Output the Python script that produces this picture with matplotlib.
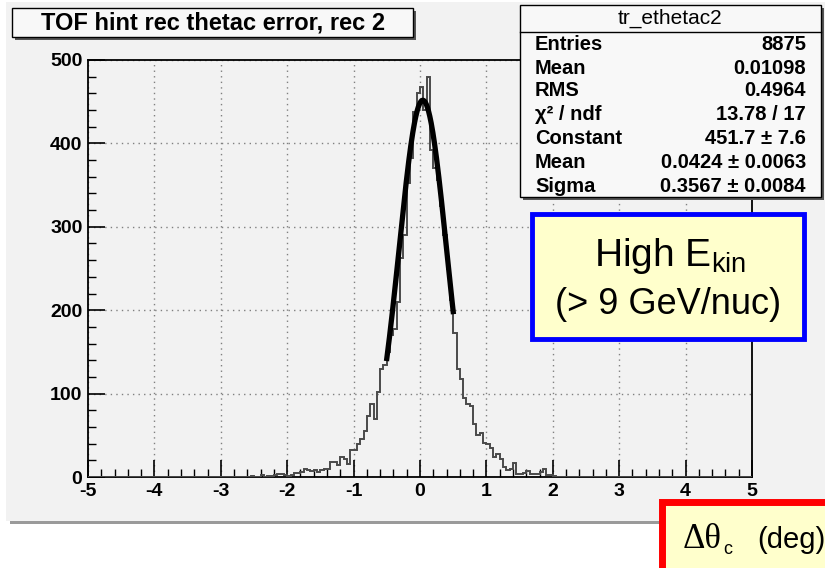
import numpy as np
import matplotlib.pyplot as plt
from matplotlib.patches import Rectangle

# histogram: 200 bins of 0.05 from -5 to 5, non-empty part starts at -2.55
x_lo, x_hi, bin_w = -5.0, 5.0, 0.05
first_bin = -2.55
counts = [
    # -2.55 .. -1.45
    1, 0, 0, 2, 0, 1, 1, 2, 3, 4, 2, 1, 2, 5, 5, 6, 9, 8, 7, 8, 6, 8, 9,
    # -1.40 .. -0.55
    9, 18, 18, 14, 24, 21, 15, 32, 32, 39, 46, 55, 73, 88, 69, 102, 130, 134,
    # -0.50 .. 0.45
    150, 170, 178, 210, 262, 290, 352, 382, 438, 460, 468, 440, 480, 392, 370, 356, 325, 290, 250, 212,
    # 0.50 .. 2.00
    173, 130, 118, 95, 88, 85, 63, 50, 53, 41, 39, 35, 24, 27, 21, 12, 8, 10, 17, 4,
    3, 5, 7, 3, 3, 3, 6, 9, 2, 2, 1,
]

# gaussian fit shown in the stats box
fit_const, fit_mean, fit_sigma = 451.7, 0.0424, 0.3567
fit_range = (-0.5, 0.5)

x_ticks = [-5, -4, -3, -2, -1, 0, 1, 2, 3, 4, 5]
y_ticks = [0, 100, 200, 300, 400, 500]

title = "TOF hint rec thetac error, rec 2"
stats_name = "tr_ethetac2"
stats_labels = ["Entries", "Mean", "RMS", "\u03c7\u00b2 / ndf", "Constant", "Mean", "Sigma"]
stats_values = ["8875", "0.01098", "0.4964", "13.78 / 17",
                "451.7 \u00b1 7.6", "0.0424 \u00b1 0.0063", "0.3567 \u00b1 0.0084"]

plt.rcParams['font.family'] = ['Liberation Sans', 'DejaVu Sans']

W, H = 825, 568
fig = plt.figure(figsize=(W / 100, H / 100), dpi=100)
fig.patch.set_facecolor('white')

# pad background (pixel coordinates)
bg = fig.add_axes([0, 0, 1, 1], zorder=0)
bg.set_xlim(0, W)
bg.set_ylim(H, 0)
bg.axis('off')
bg.add_patch(Rectangle((10, 521), W, 3, facecolor='#9a9a9a', edgecolor='none'))
bg.add_patch(Rectangle((6, 2), W, 519, facecolor='#f2f2f2', edgecolor='none'))

# histogram frame
ax = fig.add_axes([88 / W, 1 - 477 / H, (752 - 88) / W, (477 - 60) / H], zorder=1)
ax.set_facecolor('#f2f2f2')

nbins = int(round((x_hi - x_lo) / bin_w))
edges = np.linspace(x_lo, x_hi, nbins + 1)
vals = np.zeros(nbins)
i0 = int(round((first_bin - x_lo) / bin_w))
vals[i0:i0 + len(counts)] = counts
ax.stairs(vals, edges, color='#4a4a4a', linewidth=1.4, zorder=3)

xf = np.linspace(fit_range[0], fit_range[1], 200)
yf = fit_const * np.exp(-0.5 * ((xf - fit_mean) / fit_sigma) ** 2)
ax.plot(xf, yf, color='black', linewidth=3.8, zorder=4)

ax.set_xlim(x_lo, x_hi)
ax.set_ylim(0, 500)
ax.set_xticks(x_ticks)
ax.set_yticks(y_ticks)
ax.set_xticks(np.arange(x_lo, x_hi + 0.001, 0.2), minor=True)
ax.set_yticks(np.arange(0, 501, 20), minor=True)
ax.set_xticklabels([str(t) for t in x_ticks])
ax.tick_params(direction='in', which='major', length=12, width=1.2, labelsize=14, pad=4)
ax.tick_params(direction='in', which='minor', length=6, width=1.0)
for lab in ax.get_xticklabels() + ax.get_yticklabels():
    lab.set_fontweight('bold')
ax.grid(True, which='major', linestyle=(0, (1, 3)), color='#808080', linewidth=1.0)
for sp in ax.spines.values():
    sp.set_linewidth(1.3)

# overlay for boxes and labels (pixel coordinates)
ov = fig.add_axes([0, 0, 1, 1], zorder=5)
ov.set_xlim(0, W)
ov.set_ylim(H, 0)
ov.axis('off')
ov.patch.set_alpha(0)

# title box
ov.add_patch(Rectangle((15, 11), 401, 29, facecolor='#555555', edgecolor='none'))
ov.add_patch(Rectangle((12, 8), 401, 29, facecolor='#f8f8f8', edgecolor='black', linewidth=1))
ov.text(213, 23, title, ha='center', va='center', fontsize=17, fontweight='bold')

# stats box
ov.add_patch(Rectangle((523, 8), 301, 192, facecolor='#555555', edgecolor='none'))
ov.add_patch(Rectangle((520, 5), 301, 192, facecolor='#f8f8f8', edgecolor='black', linewidth=1))
ov.plot([520, 821], [32, 32], color='black', linewidth=1)
ov.text(670, 18, stats_name, ha='center', va='center', fontsize=15)
row_y = [44, 68, 91, 114, 138, 162, 186]
for lab, val, yy in zip(stats_labels, stats_values, row_y):
    ov.text(535, yy, lab, ha='left', va='center', fontsize=14.5, fontweight='bold')
    ov.text(806, yy, val, ha='right', va='center', fontsize=14.5, fontweight='bold')

# energy label box
ov.add_patch(Rectangle((532, 214), 272, 125, facecolor='#ffffcc', edgecolor='#0000ff', linewidth=3.5))
narrow = ['Liberation Sans Narrow', 'Liberation Sans', 'DejaVu Sans']
ov.text(670, 256, "High E$_{\\mathregular{kin}}$", ha='center', va='center', fontsize=28, family=narrow)
ov.text(668, 304, "(> 9 GeV/nuc)", ha='center', va='center', fontsize=26, family=narrow)

# axis title box
ov.add_patch(Rectangle((662, 502), 200, 100, facecolor='#ffffcc', edgecolor='#ff0000', linewidth=5))
ov.text(683, 540, "\u0394\u03b8", ha='left', va='center', fontsize=25, family=['Liberation Serif', 'DejaVu Serif'])
ov.text(723, 550, "c", ha='left', va='center', fontsize=13, family=narrow)
ov.text(757, 540, "(deg)", ha='left', va='center', fontsize=21, family=narrow)

fig.savefig('out.png', dpi=100)
